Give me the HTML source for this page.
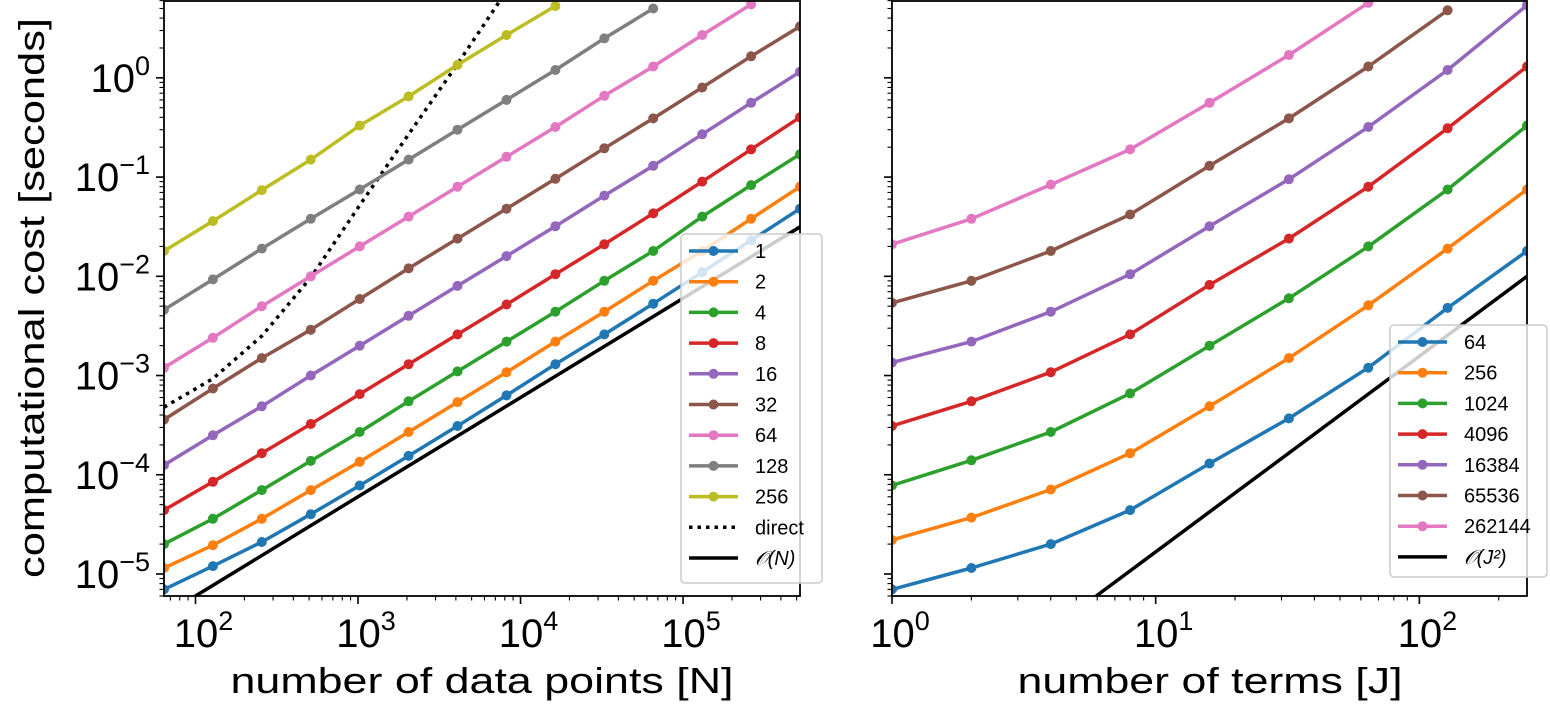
<!DOCTYPE html>
<html><head><meta charset="utf-8"><style>
html,body{margin:0;padding:0;background:#fff;}
svg{display:block;font-family:"Liberation Sans","DejaVu Sans",sans-serif;}
</style></head><body>
<svg id="chart" width="1550" height="711" viewBox="0 0 1550 711" xmlns="http://www.w3.org/2000/svg"></svg>
<script>
// ---- data: left panel (cost vs N for various J) ----
const leftN = [64,128,256,512,1024,2048,4096,8192,16384,32768,65536,131072,262144,524288];
const leftLabels = ["1","2","4","8","16","32","64","128","256"];
const leftJ1 = [7e-6,1.2e-5,2.1e-5,4.0e-5,7.8e-5,1.55e-4,3.1e-4,6.3e-4,1.3e-3,2.6e-3,5.3e-3,1.1e-2,2.3e-2,4.8e-2];
const leftJ2 = [1.15e-5,1.95e-5,3.6e-5,7e-5,1.35e-4,2.7e-4,5.4e-4,1.08e-3,2.2e-3,4.4e-3,9e-3,1.8e-2,3.8e-2,8e-2];
const leftJ4 = [2e-5,3.6e-5,7e-5,1.38e-4,2.7e-4,5.5e-4,1.1e-3,2.2e-3,4.4e-3,9e-3,1.8e-2,4e-2,8.3e-2,1.7e-1];
const leftJ8 = [4.4e-5,8.5e-5,1.65e-4,3.25e-4,6.5e-4,1.3e-3,2.6e-3,5.2e-3,1.05e-2,2.1e-2,4.3e-2,9e-2,1.9e-1,4e-1];
const leftJ16 = [1.25e-4,2.5e-4,4.9e-4,1e-3,2e-3,4e-3,8e-3,1.6e-2,3.2e-2,6.5e-2,1.3e-1,2.7e-1,5.6e-1,1.15];
const leftJ32 = [3.6e-4,7.4e-4,1.5e-3,2.9e-3,5.9e-3,1.2e-2,2.4e-2,4.8e-2,9.6e-2,1.95e-1,3.9e-1,8e-1,1.65,3.3];
const leftJ64 = [1.2e-3,2.4e-3,5e-3,1e-2,2e-2,4e-2,8e-2,1.6e-1,3.2e-1,6.6e-1,1.3,2.7,5.5];
const leftJ128 = [4.6e-3,9.3e-3,1.9e-2,3.8e-2,7.5e-2,1.5e-1,3e-1,6e-1,1.2,2.5,5];
const leftJ256 = [1.8e-2,3.6e-2,7.4e-2,1.5e-1,3.3e-1,6.5e-1,1.35,2.7,5.3];
const directN = [64,128,256,512,1024,2048,4096,8192];
const directCost = [4.8e-4,9.3e-4,2.5e-3,9.7e-3,5.2e-2,0.27,1.38,7.5];
const orderNx = [64,524288];
const orderNy = [3.84e-6,3.15e-2];
// ---- data: right panel (cost vs J for various N) ----
const rightJ = [1,2,4,8,16,32,64,128,256];
const rightLabels = ["64","256","1024","4096","16384","65536","262144"];
const rightN64 = [7e-6,1.15e-5,2e-5,4.4e-5,1.3e-4,3.7e-4,1.2e-3,4.8e-3,1.8e-2];
const rightN256 = [2.2e-5,3.7e-5,7.1e-5,1.65e-4,4.9e-4,1.5e-3,5.1e-3,1.9e-2,7.5e-2];
const rightN1024 = [7.8e-5,1.4e-4,2.7e-4,6.6e-4,2e-3,6e-3,2e-2,7.5e-2,3.3e-1];
const rightN4096 = [3.1e-4,5.5e-4,1.08e-3,2.6e-3,8.2e-3,2.4e-2,8e-2,3.1e-1,1.3];
const rightN16384 = [1.35e-3,2.2e-3,4.4e-3,1.05e-2,3.2e-2,9.5e-2,3.2e-1,1.2,5.4];
const rightN65536 = [5.4e-3,9e-3,1.8e-2,4.2e-2,1.3e-1,3.9e-1,1.3,4.8];
const rightN262144 = [2.1e-2,3.8e-2,8.4e-2,1.9e-1,5.6e-1,1.7,5.7];
const orderJx = [5.95,256];
const orderJy = [6e-6,1.0e-2];
const yTickExps = [-5,-4,-3,-2,-1,0];
const leftXTickExps = [2,3,4,5];
const rightXTickExps = [0,1,2];

const colors = ["#1f77b4","#ff7f0e","#2ca02c","#d62728","#9467bd","#8c564b","#e377c2","#7f7f7f","#bcbd22"];
const NS = "http://www.w3.org/2000/svg";
const svg = document.getElementById('chart');
function mk(tag, attrs, parent){
  const e = document.createElementNS(NS, tag);
  for (const k in attrs) e.setAttribute(k, attrs[k]);
  (parent||svg).appendChild(e);
  return e;
}
const Y0 = 1, Y1 = 596, YMIN = Math.log10(6e-6), YMAX = Math.log10(5.95);
function yScale(v){ return Y1 - (Math.log10(v)-YMIN)/(YMAX-YMIN)*(Y1-Y0); }
function makeX(x0,x1,vmin,vmax){ const a=Math.log10(vmin), b=Math.log10(vmax); return v => x0 + (Math.log10(v)-a)/(b-a)*(x1-x0); }

function drawPanel(name, x0, x1, xs, xExps, showY, series, labels, extra){
  const g = mk('g', {});
  
  
  const clipId = name+'-clip';
  const cp = mk('clipPath', {id: clipId}, g);
  mk('rect', {x:x0, y:Y0, width:x1-x0, height:Y1-Y0}, cp);
  const plot = mk('g', {'clip-path':'url(#'+clipId+')'}, g);
  extra.forEach(ex => {
    const p = mk('polyline', {points: ex.x.map((v,i)=>xs(v).toFixed(1)+','+yScale(ex.y[i]).toFixed(1)).join(' '),
      fill:'none', stroke:'#000', 'stroke-width':3.5, 'stroke-dasharray': ex.dash||'none'}, plot);
    
    
  });
  series.forEach((s,si) => {
    const sg = mk('g', {}, plot);
    
    
    const pts = s.vals.map((v,i)=>[xs(s.x[i]), yScale(v)]);
    mk('polyline', {points: pts.map(p=>p[0].toFixed(1)+','+p[1].toFixed(1)).join(' '), fill:'none', stroke:colors[si], 'stroke-width':3.5, 'stroke-linejoin':'round'}, sg);
    pts.forEach(p => {
      const c = mk('circle', {cx:p[0].toFixed(1), cy:p[1].toFixed(1), r:5, fill:colors[si]}, sg);
      
      
    });
  });
  const fr = mk('rect', {x:x0, y:Y0, width:x1-x0, height:Y1-Y0, fill:'none', stroke:'#000', 'stroke-width':1.8}, g);
  
  
  for (let e=-6; e<=1; e++){
    for (let m=1; m<10; m++){
      const v = m*Math.pow(10,e); const y = yScale(v);
      if (y < Y0-0.5 || y > Y1+0.5) continue;
      mk('line', {x1:x0, x2:x0-(m===1?8:4.5), y1:y, y2:y, stroke:'#000', 'stroke-width': m===1?1.6:1.1}, g);
    }
  }
  if (showY){
    yTickExps.forEach(e => {
      const y = yScale(Math.pow(10,e));
      const t = mk('text', {x:x0-14, y:y+14, 'text-anchor':'end', 'font-size':40, fill:'#000'}, g);
      
      
      const a = mk('tspan', {}, t); a.textContent = '10';
      const b = mk('tspan', {dy:-17, 'font-size':27}, t); b.textContent = e===0 ? '0' : '\u2212'+(-e);
    });
  }
  const lo = Math.log10(xs.vmin), hi = Math.log10(xs.vmax);
  for (let e=Math.floor(lo); e<=Math.ceil(hi); e++){
    for (let m=1; m<10; m++){
      const v = m*Math.pow(10,e); const lv = Math.log10(v);
      if (lv < lo-1e-6 || lv > hi+1e-6) continue;
      const x = xs(v);
      mk('line', {x1:x, x2:x, y1:Y1, y2:Y1+(m===1?8:4.5), stroke:'#000', 'stroke-width': m===1?1.6:1.1}, g);
    }
  }
  xExps.forEach(e => {
    const x = xs(Math.pow(10,e));
    const t = mk('text', {x:x+8, y:647, 'text-anchor':'middle', 'font-size':40, fill:'#000'}, g);
    
    
    const a = mk('tspan', {}, t); a.textContent = '10';
    const b = mk('tspan', {dy:-17, 'font-size':27}, t); b.textContent = String(e);
  });
  return g;
}

function drawLegend(name, lx, ly, w, h, entries){
  const g = mk('g', {});
  
  
  mk('rect', {x:lx, y:ly, width:w, height:h, rx:4, fill:'#fff', 'fill-opacity':0.8, stroke:'#ccc', 'stroke-width':1.5}, g);
  entries.forEach((en,i) => {
    const y = ly + 17 + i*30.7;
    const eg = mk('g', {}, g);
    
    
    mk('line', {x1:lx+8, x2:lx+57, y1:y, y2:y, stroke:en.color, 'stroke-width':3.5, 'stroke-dasharray':en.dash||'none'}, eg);
    if (en.marker) mk('circle', {cx:lx+32.5, cy:y, r:5, fill:en.color}, eg);
    const t = mk('text', {x:lx+74, y:y+7, 'font-size':20, fill:'#000', 'font-style':en.italic?'italic':'normal'}, eg);
    t.textContent = en.label;
  });
}

const xL = makeX(164, 800, 64, 524288); xL.vmin=64; xL.vmax=524288;
const leftVals = [leftJ1,leftJ2,leftJ4,leftJ8,leftJ16,leftJ32,leftJ64,leftJ128,leftJ256];
drawPanel('left-panel', 164, 800, xL, leftXTickExps, true,
  leftVals.map(v=>({x:leftN, vals:v})), leftLabels,
  [{x:directN, y:directCost, dash:'3.5,5', name:'direct-line'}, {x:orderNx, y:orderNy, name:'order-n-line'}]);
const xR = makeX(892, 1527, 1, 256); xR.vmin=1; xR.vmax=256;
const rightVals = [rightN64,rightN256,rightN1024,rightN4096,rightN16384,rightN65536,rightN262144];
drawPanel('right-panel', 892, 1527, xR, rightXTickExps, false,
  rightVals.map(v=>({x:rightJ, vals:v})), rightLabels,
  [{x:orderJx, y:orderJy, name:'order-j2-line'}]);

drawLegend('left-legend', 681, 234, 141, 349,
  leftLabels.map((l,i)=>({label:l, color:colors[i], marker:true}))
  .concat([{label:'direct', color:'#000', dash:'3.5,5'}, {label:'\uD835\uDCAA(N)', color:'#000', italic:true}]));
drawLegend('right-legend', 1390, 325, 157, 252,
  rightLabels.map((l,i)=>({label:l, color:colors[i], marker:true}))
  .concat([{label:'\uD835\uDCAA(J\u00B2)', color:'#000', italic:true}]));

let t = mk('text', {x:482, y:693, 'text-anchor':'middle', 'font-size':36, textLength:503, lengthAdjust:'spacingAndGlyphs', fill:'#000'});
t.textContent = 'number of data points [N]';


t = mk('text', {x:1210, y:693, 'text-anchor':'middle', 'font-size':36, textLength:385, lengthAdjust:'spacingAndGlyphs', fill:'#000'});
t.textContent = 'number of terms [J]';


t = mk('text', {x:0, y:0, 'text-anchor':'middle', 'font-size':36, textLength:560, lengthAdjust:'spacingAndGlyphs', fill:'#000', transform:'translate(44,298) rotate(-90)'});
t.textContent = 'computational cost [seconds]';


</script>
</body></html>
